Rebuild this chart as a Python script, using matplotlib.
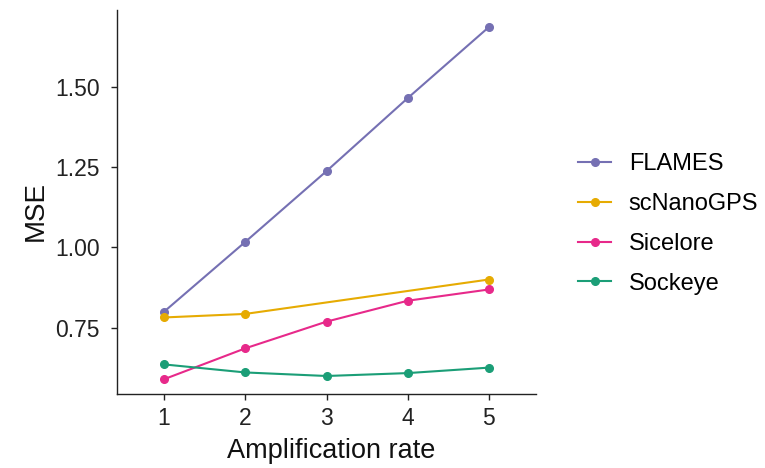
import matplotlib
matplotlib.use("Agg")
import matplotlib.pyplot as plt

plt.rcParams['font.family'] = ['Liberation Sans', 'DejaVu Sans']

amp = [1, 2, 3, 4, 5]
flames = [0.800, 1.017, 1.237, 1.464, 1.685]
scnanogps = [0.782, 0.793, None, None, 0.900]
sicelore = [0.590, 0.686, 0.769, 0.834, 0.869]
sockeye = [0.636, 0.611, 0.600, 0.609, 0.626]
names = ["FLAMES", "scNanoGPS", "Sicelore", "Sockeye"]
colors = ["#7570B3", "#E6AB02", "#E7298A", "#1B9E77"]

W, H = 765, 468
fig = plt.figure(figsize=(W / 100, H / 100), dpi=100)
ax = fig.add_axes([117 / W, 1 - 394 / H, (536 - 117) / W, (394 - 10) / H])

series = [flames, scnanogps, sicelore, sockeye]
for name, vals, c in zip(names, series, colors):
    xs = [x for x, v in zip(amp, vals) if v is not None]
    ys = [v for v in vals if v is not None]
    ax.plot(xs, ys, color=c, lw=1.5, marker='o', ms=5.5, label=name)

ax.set_xlim(0.42, 5.58)
ax.set_ylim(0.544, 1.738)
ax.set_xticks(amp)
ax.set_yticks([0.75, 1.00, 1.25, 1.50])
ax.set_yticklabels(["0.75", "1.00", "1.25", "1.50"])
for s in ['top', 'right']:
    ax.spines[s].set_visible(False)
for s in ['left', 'bottom']:
    ax.spines[s].set_linewidth(1.0)
    ax.spines[s].set_color('#222222')
ax.tick_params(labelsize=16.5, length=4.5, width=1.0, colors='#222222', labelcolor='#222222')
ax.tick_params(axis='y', pad=8)
ax.tick_params(axis='x', pad=5)
ax.set_xlabel("Amplification rate", fontsize=19.5, color='#111111')
ax.set_ylabel("MSE", fontsize=20, color='#111111')
ax.xaxis.set_label_coords((331 - 117) / (536 - 117), (394 - 468 + 4) / (394 - 10), transform=ax.transAxes)
ax.xaxis.label.set_va('bottom')
ax.yaxis.set_label_coords((23 - 117) / (536 - 117), (394 - 211) / (394 - 10), transform=ax.transAxes)
ax.yaxis.label.set_va('top')

leg = fig.legend(loc='center left', bbox_to_anchor=(578 / W, 1 - 224 / H), frameon=False,
                 fontsize=17, handlelength=1.4, labelspacing=0.75, handletextpad=0.75,
                 borderpad=0, borderaxespad=0)

fig.savefig("out.png", dpi=100)
